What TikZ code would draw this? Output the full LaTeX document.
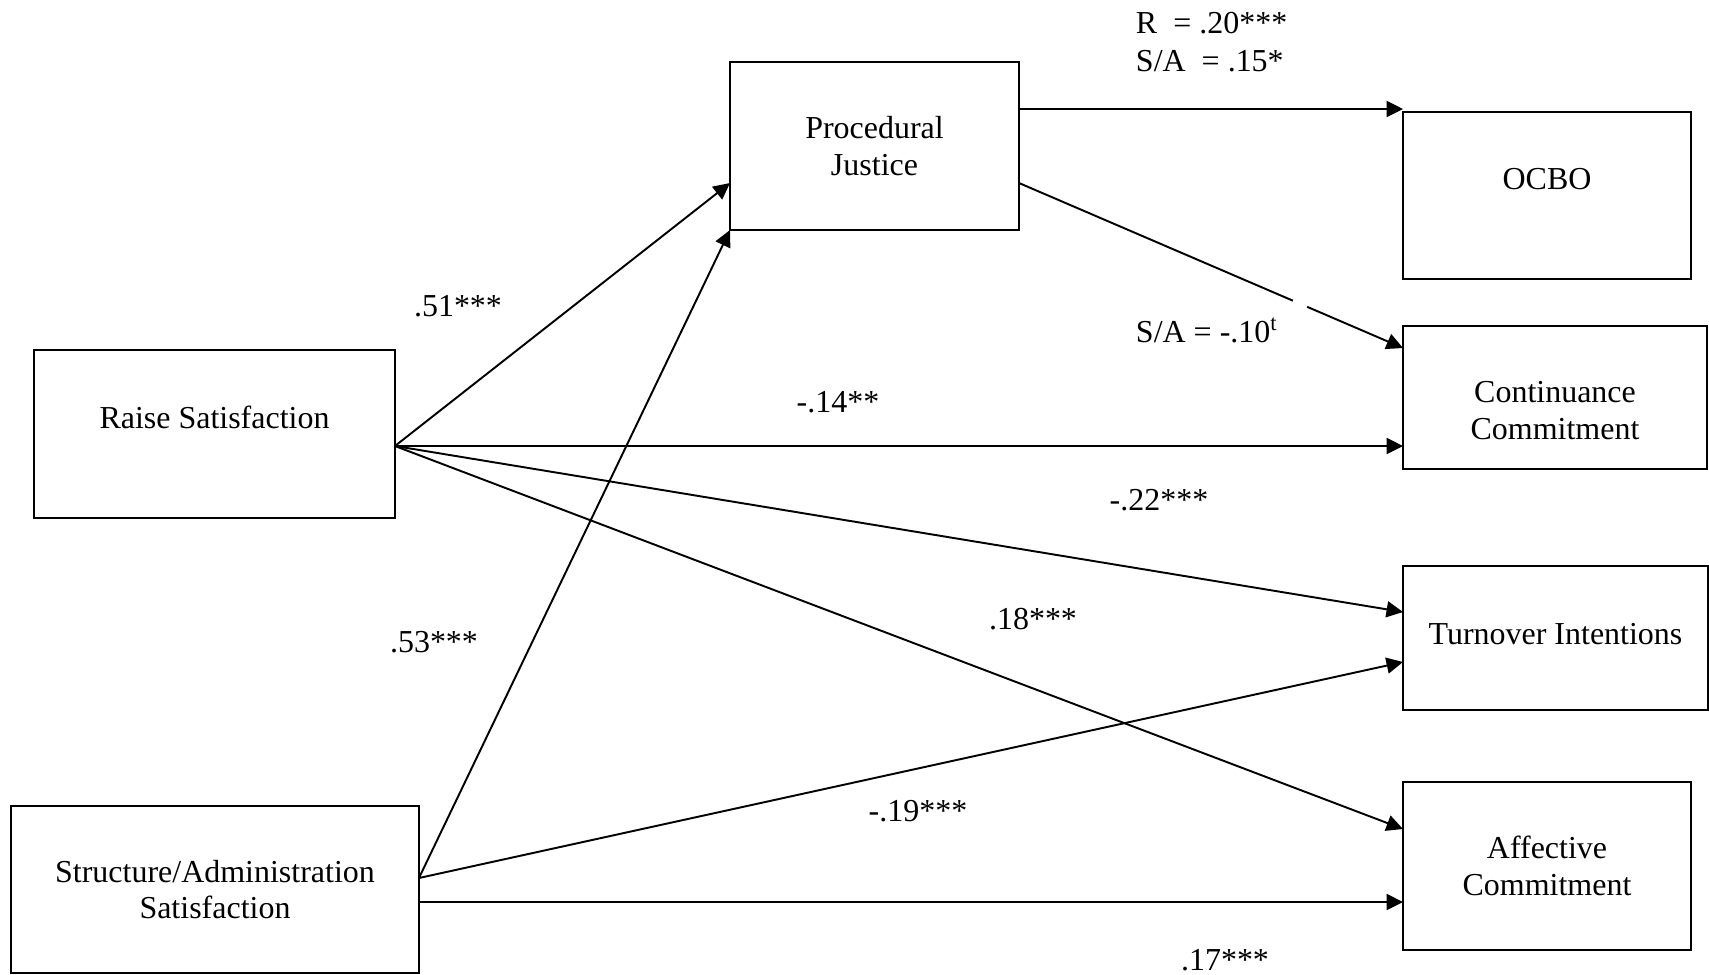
\documentclass[tikz,border=0pt]{standalone}
\usepackage{fontspec}
\setmainfont{Liberation Serif}
\usetikzlibrary{arrows.meta,calc}
\begin{document}
\begin{tikzpicture}[x=.02cm, y=-.02cm, line width=1.1pt,
	font=\fontsize{18.2}{21}\selectfont,
	box/.style={draw, rectangle, inner sep=0pt, outer sep=0pt, align=center},
	lbl/.style={inner sep=0pt},
	pfeil/.style={-{Triangle[length=.33cm, width=.32cm]}}]
	\useasboundingbox (0,0) rectangle (1709,974);
	\node[box, minimum width=7.22cm, minimum height=3.36cm, text depth=.68cm] (raise) at (214.5,434) {Raise Satisfaction};
	\node[box, minimum width=8.16cm, minimum height=3.34cm] (sa)    at (215,889.5)  {Structure/Administration\\Satisfaction};
	\node[box, minimum width=5.78cm, minimum height=3.36cm] (pj)    at (874.5,146)  {Procedural\\Justice};
	\node[box, minimum width=5.76cm, minimum height=3.34cm, text depth=.68cm] (ocbo) at (1547,195.5) {OCBO};
	\node[box, minimum width=6.08cm, minimum height=2.86cm, text height=1.66cm, text depth=0cm] (cc) at (1555,397.5) {Continuance\\Commitment};
	\node[box, minimum width=6.10cm, minimum height=2.88cm, text depth=.18cm] (ti) at (1555.5,638) {Turnover Intentions};
	\node[box, minimum width=5.76cm, minimum height=3.36cm] (ac)    at (1547,866)   {Affective\\Commitment};
	\coordinate (raise-out) at ($(raise.east)+(0,12)$);
	\coordinate (sa-up)     at ($(sa.east)+(0,-11.5)$);
	\coordinate (sa-low)    at ($(sa.east)+(0,12.5)$);
	\coordinate (pj-in)     at ($(pj.west)+(0,37)$);
	\coordinate (pj-a)      at ($(pj.east)+(0,-37)$);
	\coordinate (pj-b)      at ($(pj.east)+(0,37)$);
	\coordinate (cc-in)     at ($(cc.west)+(0,-49.5)$);
	\coordinate (ti-a)      at ($(ti.west)+(0,-26)$);
	\coordinate (ti-b)      at ($(ti.west)+(0,24)$);
	\coordinate (ac-a)      at ($(ac.west)+(0,-37)$);
	\draw[pfeil] (raise-out) -- (pj-in);
	\draw[pfeil] (raise-out) -- (raise-out -| cc.west);
	\draw[pfeil] (raise-out) -- (ti-a);
	\draw[pfeil] (raise-out) -- (ac-a);
	\draw[pfeil] (sa-up) -- (pj.south west);
	\draw[pfeil] (sa-up) -- (ti-b);
	\draw[pfeil] (sa-low) -- (sa-low -| ac.west);
	\draw[pfeil] (pj-a) -- (pj-a -| ocbo.west);
	\draw[pfeil] (pj-b) -- (cc-in);
	%Luecke im Pfeil
	\draw[white, line width=4pt] ($(pj-b)!.7135!(cc-in)$) -- ($(pj-b)!.75!(cc-in)$);
	\node[lbl] (w-raise-pj) at (458,306)  {.51***};
	\node[lbl] (w-sa-pj)    at (434,642)  {.53***};
	\node[lbl] (w-raise-cc) at (838,402)  {-.14**};
	\node[lbl] (w-raise-ti) at (1159,500) {-.22***};
	\node[lbl] (w-raise-ac) at (1033,619) {.18***};
	\node[lbl] (w-sa-ti)    at (918,811)  {-.19***};
	\node[lbl] (w-sa-ac)    at (1225,960) {.17***};
	\node[lbl, anchor=north west, align=left, font=\fontsize{18.2}{21.6}\selectfont] (w-pj-ocbo) at (1135,11.5) {R\ \ = .20***\\S/A\ \ = .15*};
	\node[lbl, anchor=base west] (w-pj-cc) at (1135,342) {S/A = -.10\textsuperscript{t}};
\end{tikzpicture}
\end{document}
